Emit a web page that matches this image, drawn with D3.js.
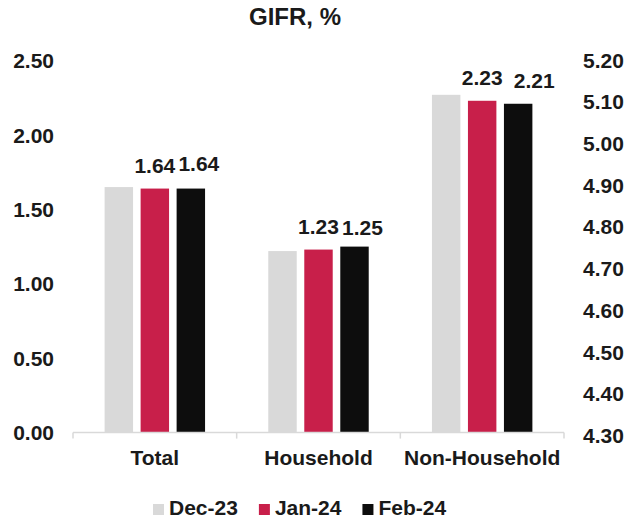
<!DOCTYPE html>
<html>
<head>
<meta charset="utf-8">
<script src="https://cdn.jsdelivr.net/npm/d3@7"></script>
<style>
  body { margin: 0; background: #fff; }
  svg text { font-family: "Liberation Sans", Arial, sans-serif; font-weight: bold; fill: #1a1a1a; }
</style>
</head>
<body>
<div id="chart"></div>
<script>
const categories = ["Total", "Household", "Non-Household"];
const series = ["Dec-23", "Jan-24", "Feb-24"];
const dec23 = [1.65, 1.22, 2.27];
const jan24 = [1.64, 1.23, 2.23];
const feb24 = [1.64, 1.25, 2.21];
const leftTicks = [0, 0.5, 1.0, 1.5, 2.0, 2.5];
const rightTicks = [4.3, 4.4, 4.5, 4.6, 4.7, 4.8, 4.9, 5.0, 5.1, 5.2];
const labelled = ["Jan-24", "Feb-24"];

const colors = {"Dec-23": "#d9d9d9", "Jan-24": "#c81f4a", "Feb-24": "#0d0d0d"};
const values = {"Dec-23": dec23, "Jan-24": jan24, "Feb-24": feb24};

const width = 627, height = 520;
const svg = d3.select("#chart").append("svg")
    .attr("width", width)
    .attr("height", height);

// scales
let x0 = d3.scaleBand().domain(categories).range([73, 564]);
let bw = x0.bandwidth();
let x1 = d3.scaleBand().domain(series)
    .range([bw/2 - 54, bw/2 + 54])
    .paddingInner(0.21)
    .paddingOuter(0.105);
let y = d3.scaleLinear().domain([0, 2.5]).range([432.6, 60.6]);
let yR = d3.scaleLinear().domain([4.3, 5.2]).range([435.5, 60]);

// title
svg.append("text")
    .attr("x", 295)
    .attr("y", 25)
    .attr("text-anchor", "middle")
    .style("font-size", "24px")
    .text("GIFR, %");

// left axis labels
svg.selectAll("text.lt")
    .data(leftTicks)
    .enter()
    .append("text")
    .attr("class", "lt")
    .attr("x", 54)
    .attr("y", d => y(d))
    .attr("dy", "0.36em")
    .attr("text-anchor", "end")
    .style("font-size", "21px")
    .text(d => d3.format(".2f")(d));

// right axis labels
svg.selectAll("text.rt")
    .data(rightTicks)
    .enter()
    .append("text")
    .attr("class", "rt")
    .attr("x", 583)
    .attr("y", d => yR(d))
    .attr("dy", "0.36em")
    .style("font-size", "21px")
    .text(d => d3.format(".2f")(d));

// bars
let groups = svg.selectAll("g.cat")
    .data(categories)
    .enter()
    .append("g")
    .attr("class", "cat")
    .attr("transform", d => "translate(" + x0(d) + ",0)");

groups.selectAll("rect")
    .data((c, i) => series.map(s => ({s: s, v: values[s][i], i: i})))
    .enter()
    .append("rect")
    .attr("x", d => x1(d.s))
    .attr("width", x1.bandwidth())
    .attr("y", d => y(d.v))
    .attr("height", d => y(0) - y(d.v))
    .style("fill", d => colors[d.s]);

// data labels (Feb labels were nudged right in the original)
let nudge = (d) => {
    if(d.s != "Feb-24") return [0, 0];
    if(d.i == 2) return [16, 0];
    if(d.i == 1) return [8, 4];
    return [8, -2];
};
groups.selectAll("text.val")
    .data((c, i) => labelled.map(s => ({s: s, v: values[s][i], i: i})))
    .enter()
    .append("text")
    .attr("class", "val")
    .attr("x", d => x1(d.s) + x1.bandwidth()/2 + nudge(d)[0])
    .attr("y", d => y(d.v) - 16 + nudge(d)[1])
    .attr("text-anchor", "middle")
    .style("font-size", "21px")
    .text(d => d3.format(".2f")(d.v));

// category axis
let axisY = 432.6;
svg.append("line")
    .attr("x1", 73).attr("x2", 564)
    .attr("y1", axisY).attr("y2", axisY)
    .style("stroke", "#d9d9d9")
    .style("stroke-width", 1.5);
let edges = categories.map(c => x0(c)).concat([x0.range()[1]]);
svg.selectAll("line.tick")
    .data(edges)
    .enter()
    .append("line")
    .attr("class", "tick")
    .attr("x1", d => d).attr("x2", d => d)
    .attr("y1", axisY).attr("y2", axisY + 6)
    .style("stroke", "#d9d9d9")
    .style("stroke-width", 1.5);

svg.selectAll("text.cat")
    .data(categories)
    .enter()
    .append("text")
    .attr("class", "cat")
    .attr("x", d => x0(d) + bw/2)
    .attr("y", 465)
    .attr("text-anchor", "middle")
    .style("font-size", "21px")
    .text(d => d);

// legend
let legend = svg.append("g").attr("transform", "translate(153,0)");
let lx = 0;
series.forEach(s => {
    legend.append("rect")
        .attr("x", lx)
        .attr("y", 504)
        .attr("width", 11)
        .attr("height", 11)
        .style("fill", colors[s]);
    let t = legend.append("text")
        .attr("x", lx + 16)
        .attr("y", 515)
        .style("font-size", "21px")
        .text(s);
    lx += 16 + t.node().getComputedTextLength() + 21;
});
</script>
</body>
</html>
